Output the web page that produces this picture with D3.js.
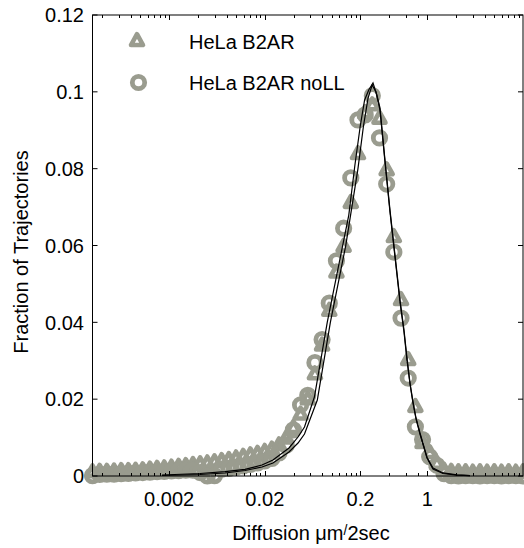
<!DOCTYPE html>
<html>
<head>
<meta charset="utf-8">
<script src="https://cdn.jsdelivr.net/npm/d3@7"></script>
<style>
  html, body { margin: 0; padding: 0; background: #fff; }
  svg text { font-family: "Liberation Sans", Arial, Helvetica, sans-serif; fill: #000; }
</style>
</head>
<body>
<svg id="chart" width="524" height="548"></svg>
<script>
// histogram bin centres, as log10 of diffusion coefficient
const binLog = [-3.5, -3.425, -3.35, -3.275, -3.2, -3.125, -3.05, -2.975, -2.9, -2.825,
  -2.75, -2.675, -2.6, -2.525, -2.45, -2.375, -2.3, -2.225, -2.15, -2.075,
  -2.0, -1.925, -1.85, -1.775, -1.7, -1.625, -1.55, -1.475, -1.4, -1.325,
  -1.25, -1.175, -1.1, -1.025, -0.95, -0.875, -0.8, -0.725, -0.65, -0.575,
  -0.5, -0.425, -0.35, -0.275, -0.2, -0.125, -0.05, 0.025, 0.1, 0.175,
  0.25, 0.325, 0.4, 0.475, 0.55, 0.625, 0.7, 0.775, 0.85, 0.925, 1.0];

const b2arFrac = [0.0010, 0.0011, 0.0011, 0.0012, 0.0013, 0.0013, 0.0014, 0.0015, 0.0017, 0.0019,
  0.0020, 0.0022, 0.0024, 0.0026, 0.0029, 0.0031, 0.0033, 0.0036, 0.0039, 0.0042,
  0.0046, 0.0050, 0.0054, 0.0058, 0.0063, 0.0069, 0.0080, 0.0098, 0.0125, 0.0160,
  0.0200, 0.0265, 0.0340, 0.0430, 0.0530, 0.0597, 0.0711, 0.0838, 0.0945, 0.0965,
  0.0930, 0.0796, 0.0622, 0.0458, 0.0302, 0.0180, 0.0086, 0.0060, 0.0032, 0.0014,
  0.0011, 0.0010, 0.0010, 0.0009, 0.0010, 0.0009, 0.0010, 0.0009, 0.0010, 0.0009, 0.0010];

const nollFrac = [0.0001, 0.0004, 0.0005, 0.0005, 0.0006, 0.0007, 0.0008, 0.0009, 0.0010, 0.0011,
  0.0012, 0.0013, 0.0014, 0.0015, 0.0015, 0.0009, 0.0000, 0.0001, 0.0018, 0.0020,
  0.0023, 0.0026, 0.0030, 0.0034, 0.0039, 0.0046, 0.0060, 0.0080, 0.0120, 0.0185,
  0.0210, 0.0295, 0.0355, 0.0450, 0.0560, 0.0645, 0.0776, 0.0927, 0.0940, 0.0990,
  0.0880, 0.0760, 0.0583, 0.0411, 0.0255, 0.0128, 0.0095, 0.0050, 0.0028, 0.0006,
  0.0001, 0.0000, 0.0001, 0.0001, 0.0000, 0.0001, 0.0001, 0.0000, 0.0001, 0.0001, 0.0000];

// fitted curves
const fitD_b2ar = [0.001684, 0.004205, 0.007674, 0.01242, 0.01869, 0.02436, 0.03580, 0.04450, 0.05200,
  0.06600, 0.09000, 0.1300, 0.1510, 0.1750, 0.1990, 0.2210, 0.2440, 0.2704, 0.2977, 0.3199,
  0.3609, 0.4070, 0.4591, 0.5178, 0.5702, 0.6126, 0.6588, 0.7080, 0.7613, 0.8376, 0.9917,
  1.146, 1.458, 2.042, 2.792];
const fitY_b2ar = [0.00026, 0.00065, 0.00112, 0.00174, 0.00286, 0.00416, 0.00729, 0.01015, 0.01275,
  0.02056, 0.04008, 0.05986, 0.06793, 0.08095, 0.0911, 0.0979, 0.1005, 0.1023, 0.0991, 0.0958,
  0.0822, 0.0692, 0.0575, 0.0458, 0.0380, 0.0307, 0.0242, 0.0193, 0.0151, 0.0112, 0.0049,
  0.0021, 0.0008, 0.0003, 0.0001];

const fitD_noll = [0.001684, 0.004205, 0.007674, 0.01242, 0.01869, 0.02436, 0.03580, 0.04450, 0.05200,
  0.07080, 0.09700, 0.1400, 0.1880, 0.2150, 0.2400, 0.2650, 0.2906, 0.3199,
  0.3609, 0.4070, 0.4591, 0.5178, 0.5702, 0.6126, 0.6588, 0.7080, 0.7613, 0.8376, 0.9917,
  1.146, 1.458, 2.042, 2.792];
const fitY_noll = [0.00013, 0.00039, 0.00078, 0.00143, 0.00234, 0.00338, 0.00625, 0.00859, 0.01093,
  0.01978, 0.04008, 0.05986, 0.07990, 0.09110, 0.09838, 0.10177, 0.09995, 0.09526,
  0.08173, 0.06871, 0.05700, 0.04529, 0.03748, 0.03019, 0.02395, 0.01900, 0.01484, 0.01093, 0.00468,
  0.00182, 0.00065, 0.00021, 0.00008];

const xTickVals = [0.002, 0.02, 0.2, 1];
const xTickLabels = ['0.002', '0.02', '0.2', '1'];
const xMinorVals = [0.0004, 0.0006, 0.0008, 0.001, 0.0012, 0.0014, 0.0016, 0.0018,
  0.004, 0.006, 0.008, 0.01, 0.012, 0.014, 0.016, 0.018,
  0.04, 0.06, 0.08, 0.1, 0.12, 0.14, 0.16, 0.18,
  0.4, 0.6, 0.8, 2, 3, 4, 5, 6, 7, 8, 9];
const yTickVals = [0, 0.02, 0.04, 0.06, 0.08, 0.1, 0.12];
const yTickLabels = ['0', '0.02', '0.04', '0.06', '0.08', '0.1', '0.12'];

const seriesNames = ['HeLa B2AR', 'HeLa B2AR noLL'];
const markerColor = '#9a9c8f';

const svg = d3.select('#chart');
const plotL = 92.5, plotR = 523, plotT = 15, plotB = 476;

const x = d3.scaleLog().domain([Math.pow(10, -3.5), 10]).range([plotL, plotR]);
const y = d3.scaleLinear().domain([0, 0.12]).range([plotB, plotT]);

const tri = 'M0,-6.8L6,4L-6,4Z';
const triStroke = 4.6, ringR = 6.2, ringStroke = 4.8;

// markers
const pts = (vals) => binLog.map((l, i) => ({ d: Math.pow(10, l), v: vals[i] }));

const gMarks = svg.append('g');
gMarks.selectAll('path.tri')
  .data(pts(b2arFrac))
  .enter().append('path')
    .attr('class', 'tri')
    .attr('d', tri)
    .attr('transform', p => `translate(${x(p.d)},${y(p.v)})`)
    .attr('fill', 'none')
    .attr('stroke', markerColor)
    .attr('stroke-width', triStroke)
    .attr('stroke-linejoin', 'round');

gMarks.selectAll('circle.ring')
  .data(pts(nollFrac))
  .enter().append('circle')
    .attr('class', 'ring')
    .attr('cx', p => x(p.d))
    .attr('cy', p => y(p.v))
    .attr('r', ringR)
    .attr('fill', 'none')
    .attr('stroke', markerColor)
    .attr('stroke-width', ringStroke);

// fit lines
const line = d3.line().x(p => x(p[0])).y(p => y(p[1]));
[[fitD_b2ar, fitY_b2ar], [fitD_noll, fitY_noll]].forEach(([ds, vs]) => {
  svg.append('path')
    .datum(ds.map((d, i) => [d, vs[i]]))
    .attr('d', line)
    .attr('fill', 'none')
    .attr('stroke', '#000')
    .attr('stroke-width', 1.2);
});

// axes box with inward ticks
const gAx = svg.append('g').attr('stroke', '#000').attr('stroke-width', 1);
gAx.append('rect')
  .attr('x', plotL).attr('y', plotT)
  .attr('width', plotR - plotL).attr('height', plotB - plotT)
  .attr('fill', 'none');

const xTicks = xTickVals.map(v => ({ v, len: 5 })).concat(xMinorVals.map(v => ({ v, len: 3 })));
xTicks.forEach(t => {
  const px = Math.round(x(t.v)) + 0.5;
  gAx.append('line').attr('x1', px).attr('x2', px).attr('y1', plotB).attr('y2', plotB - t.len);
  gAx.append('line').attr('x1', px).attr('x2', px).attr('y1', plotT).attr('y2', plotT + t.len);
});
yTickVals.forEach(v => {
  const py = y(v);
  gAx.append('line').attr('x1', plotL).attr('x2', plotL + 5).attr('y1', py).attr('y2', py);
  gAx.append('line').attr('x1', plotR).attr('x2', plotR - 5).attr('y1', py).attr('y2', py);
});

svg.append('g').selectAll('text')
  .data(xTickVals)
  .enter().append('text')
    .attr('x', d => x(d))
    .attr('y', 506)
    .attr('text-anchor', 'middle')
    .attr('font-size', 20)
    .text((d, i) => xTickLabels[i]);

svg.append('g').selectAll('text')
  .data(yTickVals)
  .enter().append('text')
    .attr('x', 84)
    .attr('y', d => y(d))
    .attr('dy', '0.36em')
    .attr('text-anchor', 'end')
    .attr('font-size', 20)
    .text((d, i) => yTickLabels[i]);

// axis titles
const xt = svg.append('text')
  .attr('x', 311)
  .attr('y', 540)
  .attr('text-anchor', 'middle')
  .attr('font-size', 20);
xt.append('tspan').text('Diffusion \u03bcm');
xt.append('tspan').attr('font-size', 14).attr('dy', -5).text('/');
xt.append('tspan').attr('dy', 5).text('2sec');

svg.append('text')
  .attr('transform', 'translate(28,252) rotate(-90)')
  .attr('text-anchor', 'middle')
  .attr('font-size', 20)
  .text('Fraction of Trajectories');

// legend
const lg = svg.append('g');
lg.append('path')
  .attr('d', tri)
  .attr('transform', 'translate(137,41)')
  .attr('fill', 'none')
  .attr('stroke', markerColor)
  .attr('stroke-width', triStroke)
  .attr('stroke-linejoin', 'round');
lg.append('circle')
  .attr('cx', 138.5).attr('cy', 82.5).attr('r', ringR)
  .attr('fill', 'none')
  .attr('stroke', markerColor)
  .attr('stroke-width', ringStroke);
lg.selectAll('text')
  .data(seriesNames)
  .enter().append('text')
    .attr('x', 189)
    .attr('y', (d, i) => i === 0 ? 49 : 90)
    .attr('font-size', 20)
    .text(d => d);
</script>
</body>
</html>
